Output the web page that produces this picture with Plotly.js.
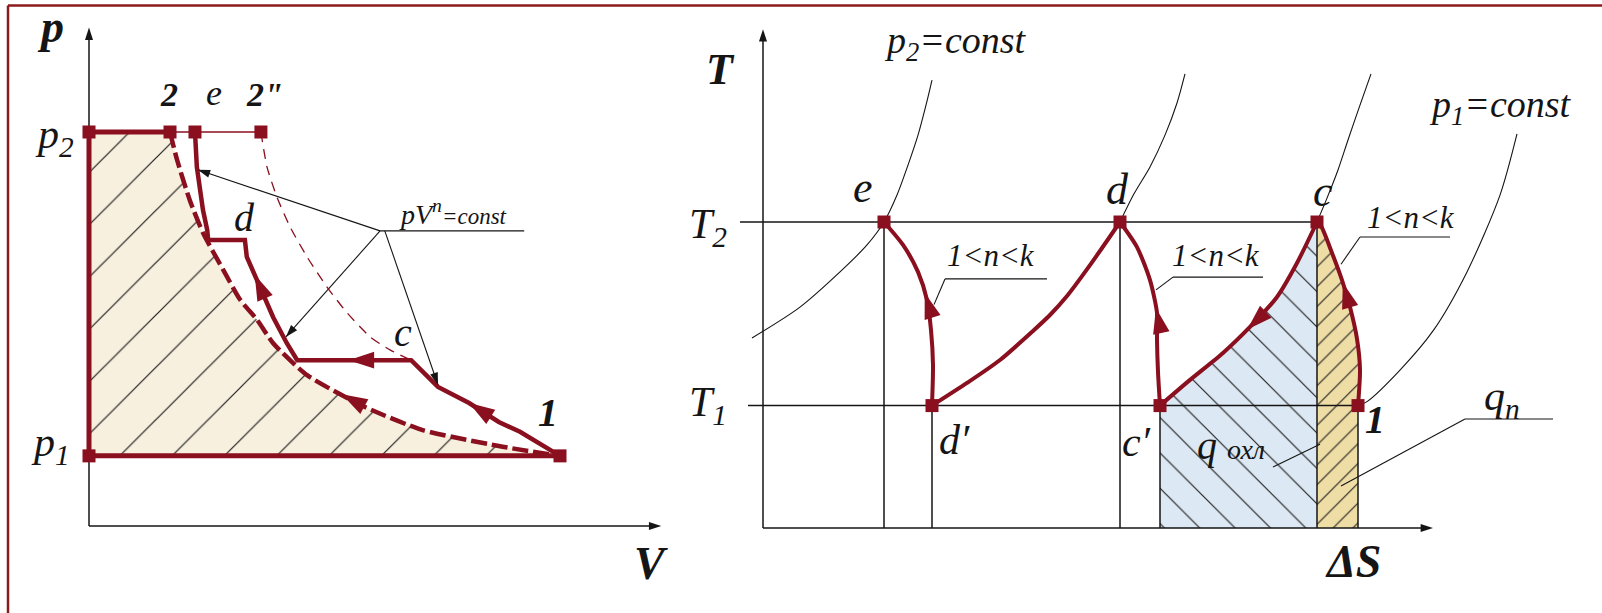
<!DOCTYPE html>
<html>
<head>
<meta charset="utf-8">
<script src="https://cdn.plot.ly/plotly-3.0.1.min.js"></script>
<style>
  html, body { margin: 0; padding: 0; background: #ffffff; }
  #chart { width: 1602px; height: 613px; }
</style>
</head>
<body>
<div id="chart"></div>
<script>
// ---------- p–V diagram (V along x, p along y) ----------
// state points: p2 and p1 on the p axis, then 2, e, 2", 1
const pvPointV = [0, 0, 1.72, 2.25, 3.65, 10.0];
const pvPointP = [10.0, 1.78, 10.0, 10.0, 10.0, 1.78];

// isotherm 2 -> 1 (pV = const)
const isoV = [1.72, 1.87, 2.14, 2.42, 2.85, 3.21, 3.57, 3.91, 4.63, 5.86, 7.07, 8.70, 10.0];
const isoP = [10.0, 9.29, 8.27, 7.44, 6.50, 5.74, 5.23, 4.64, 3.83, 3.02, 2.44, 2.03, 1.78];

// adiabat 2" -> c
const adiV = [3.65, 3.78, 3.99, 4.27, 4.63, 5.05, 5.48, 5.97, 6.39, 6.84];
const adiP = [10.0, 9.11, 8.35, 7.59, 6.83, 6.07, 5.41, 4.80, 4.47, 4.21];

// stepped polytropic compression 1 -> c -> d -> e with intercooling
const polyV = [10.0, 9.15, 8.70, 8.07, 7.41, 6.84, 4.42, 4.20, 3.91, 3.63, 3.35, 3.31, 2.53, 2.51, 2.42, 2.29, 2.25];
const polyP = [1.78, 2.39, 2.64, 3.12, 3.53, 4.21, 4.21, 4.64, 5.30, 6.07, 6.83, 7.26, 7.26, 7.51, 8.02, 9.11, 10.0];

// ---------- T–S diagram (S along x, T along y) ----------
// state points: e, d', d, c', c, 1
const tsPointS = [2.42, 3.38, 7.14, 7.94, 11.08, 11.90];
const tsPointT = [10.0, 4.0, 10.0, 4.0, 10.0, 4.0];

// polytropic compressions (1 < n < k) and isobaric coolers
const edS = [2.42, 2.80, 3.10, 3.28, 3.36, 3.40, 3.38];
const edT = [10.0, 9.25, 8.37, 7.45, 6.47, 5.33, 4.0];
const ddS = [3.38, 4.08, 4.74, 5.40, 5.74, 6.08, 6.54, 7.14];
const ddT = [4.0, 4.74, 5.49, 6.44, 6.96, 7.58, 8.59, 10.0];
const cdS = [7.94, 7.90, 7.88, 7.88, 7.74, 7.48, 7.14];
const cdT = [4.0, 5.10, 6.14, 7.03, 8.10, 9.18, 10.0];
const ccS = [7.94, 8.54, 9.20, 9.74, 10.28, 10.68, 11.08];
const ccT = [4.0, 4.84, 5.72, 6.57, 7.55, 8.66, 10.0];
const c1S = [11.90, 11.94, 11.88, 11.74, 11.58, 11.38, 11.16, 11.08];
const c1T = [4.0, 5.16, 6.18, 7.22, 8.10, 8.99, 9.87, 10.0];

// isobars
const isoP2S = [-0.22, 0.74, 1.54, 2.08, 2.42, 2.68, 2.90, 3.10, 3.26, 3.38];
const isoP2T = [6.21, 7.22, 8.37, 9.25, 10.0, 10.88, 11.86, 12.84, 13.82, 14.64];
const isoDS = [7.14, 7.42, 7.74, 8.04, 8.28, 8.44];
const isoDT = [10.0, 10.92, 11.80, 12.84, 13.89, 14.84];
const isoCS = [11.08, 11.28, 11.50, 11.70, 11.94, 12.16];
const isoCT = [10.0, 10.78, 11.70, 12.68, 13.82, 14.84];
const isoP1S = [11.90, 12.08, 12.74, 13.40, 14.08, 14.74, 15.08];
const isoP1T = [4.0, 4.13, 5.16, 6.44, 8.37, 10.88, 12.88];

// ---------- page geometry ----------
const W = 1602, H = 613;
const PV_ORIGIN = [89, 526], PV_SCALE = [47.1, 39.4];
const TS_ORIGIN = [763, 528], TS_SCALE = [50, 30.6];
const rangeX = (o, s) => [(0 - o) / s, (W - o) / s];
const rangeY = (o, s) => [(o - H) / s, o / s];

const RED = '#8a0f1f';
const INK = '#151515';
const SERIF = '"Liberation Serif", "Times New Roman", serif';

const PV = { xaxis: 'x', yaxis: 'y' };
const TS = { xaxis: 'x2', yaxis: 'y2' };

function segments(list) {
  const x = [], y = [];
  list.forEach(s => { x.push(s[0], s[2], null); y.push(s[1], s[3], null); });
  return { x, y };
}
function line(ax, x, y, color, width, extra) {
  return Object.assign({ type: 'scatter', mode: 'lines', x, y, hoverinfo: 'skip',
    line: Object.assign({ color, width }, extra || {}) }, ax);
}

// arrowhead on a polyline: tip placed a fraction t of the way from vertex i to vertex j
function arrowAt(xs, ys, i, j, t, scale) {
  const dx = xs[j] - xs[i], dy = ys[j] - ys[i];
  return { x: xs[i] + t * dx, y: ys[i] + t * dy,
    a: Math.atan2(dx * scale[0], dy * scale[1]) * 180 / Math.PI };
}
// arrowhead pointing from (x0, y0) towards (x1, y1), tip at (x1, y1)
function arrowTo(x0, y0, x1, y1, scale) {
  return arrowAt([x0, x1], [y0, y1], 0, 1, 1, scale);
}
function arrowTrace(ax, heads, color, size) {
  return Object.assign({ type: 'scatter', mode: 'markers', hoverinfo: 'skip',
    x: heads.map(h => h.x), y: heads.map(h => h.y),
    marker: { symbol: 'arrow', size, color, angle: heads.map(h => h.a), line: { width: 0 } } }, ax);
}

const traces = [];

// work area under the isotherm, hatched
traces.push(Object.assign({
  type: 'scatter', mode: 'lines',
  x: [pvPointV[1], pvPointV[0]].concat(isoV),
  y: [pvPointP[1], pvPointP[0]].concat(isoP),
  fill: 'toself', fillcolor: '#f8f0df',
  fillpattern: { shape: '/', size: 37, solidity: 0.032, fgcolor: '#1c1c1c', bgcolor: '#f8f0df' },
  line: { width: 0, color: 'rgba(0,0,0,0)' }, hoverinfo: 'skip'
}, PV));

// heat removed in the cooler (blue) and heat of the last stage (yellow)
traces.push(Object.assign({
  type: 'scatter', mode: 'lines',
  x: [ccS[0]].concat(ccS, [ccS[ccS.length - 1]]),
  y: [0].concat(ccT, [0]),
  fill: 'toself', fillcolor: '#dce8f3',
  fillpattern: { shape: '\\', size: 25, solidity: 0.045, fgcolor: '#1c1c1c', bgcolor: '#dce8f3' },
  line: { width: 0, color: 'rgba(0,0,0,0)' }, hoverinfo: 'skip'
}, TS));
traces.push(Object.assign({
  type: 'scatter', mode: 'lines',
  x: [c1S[c1S.length - 1]].concat(c1S.slice().reverse(), [c1S[0]]),
  y: [0].concat(c1T.slice().reverse(), [0]),
  fill: 'toself', fillcolor: '#efdda6',
  fillpattern: { shape: '/', size: 14, solidity: 0.075, fgcolor: '#1c1c1c', bgcolor: '#efdda6' },
  line: { width: 0, color: 'rgba(0,0,0,0)' }, hoverinfo: 'skip'
}, TS));

// T–S construction lines: T levels, axes and drops to the S axis
const TS_AXIS_TOP = 16.2, TS_AXIS_RIGHT = 13.3;
const tsGuides = [
  [-0.46, tsPointT[0], tsPointS[4], tsPointT[4]],
  [-0.30, tsPointT[1], tsPointS[5], tsPointT[5]],
  [0, 0, 0, TS_AXIS_TOP],
  [0, 0, TS_AXIS_RIGHT, 0]
];
for (let i = 0; i < tsPointS.length; i++) tsGuides.push([tsPointS[i], 0, tsPointS[i], tsPointT[i]]);
const g1 = segments(tsGuides);
traces.push(line(TS, g1.x, g1.y, INK, 1.5));

// T–S leaders for the annotations
const g2 = segments([
  [3.64, 8.14, 5.68, 8.14], [3.64, 8.14, 3.42, 7.30],
  [8.20, 8.20, 10.00, 8.20], [8.20, 8.20, 7.86, 7.78],
  [11.94, 9.51, 13.74, 9.51], [11.94, 9.51, 11.56, 8.62],
  [14.04, 3.56, 15.80, 3.56], [14.04, 3.56, 11.56, 1.37],
  [10.20, 1.99, 11.14, 2.74]
]);
traces.push(line(TS, g2.x, g2.y, INK, 1.1));

// isobars
[[isoP2S, isoP2T], [isoDS, isoDT], [isoCS, isoCT], [isoP1S, isoP1T]].forEach(c => {
  traces.push(line(TS, c[0], c[1], INK, 1.1, { shape: 'spline', smoothing: 0.8 }));
});

// p–V axes and leaders for pV^n = const
const PV_AXIS_TOP = 12.55, PV_AXIS_RIGHT = 12.05;
const g3 = segments([[0, 0, 0, PV_AXIS_TOP], [0, 0, PV_AXIS_RIGHT, 0]]);
traces.push(line(PV, g3.x, g3.y, INK, 1.5));
const leadFrom = [6.18, 7.49];
const leadTo = [[2.31, 9.04], [4.18, 4.80], [7.41, 3.58]];
const g4 = segments([
  [6.18, 7.49, 9.24, 7.49],
  [leadFrom[0], leadFrom[1], leadTo[0][0], leadTo[0][1]],
  [leadFrom[0], leadFrom[1], leadTo[1][0], leadTo[1][1]],
  [leadFrom[0] + 0.1, leadFrom[1], leadTo[2][0], leadTo[2][1]]
]);
traces.push(line(PV, g4.x, g4.y, INK, 1.1));

// p–V cycle lines
traces.push(line(PV, adiV, adiP, RED, 1.3, { dash: '10px,7px', shape: 'spline', smoothing: 0.6 }));
traces.push(line(PV, isoV, isoP, RED, 4.5, { dash: '16px,5px', shape: 'spline', smoothing: 0.6 }));
traces.push(line(PV, [pvPointV[2], pvPointV[4]], [pvPointP[2], pvPointP[4]], RED, 1.6));
traces.push(line(PV, [pvPointV[1], pvPointV[0], pvPointV[2]], [pvPointP[1], pvPointP[0], pvPointP[2]], RED, 5));
traces.push(line(PV, [pvPointV[1], pvPointV[5]], [pvPointP[1], pvPointP[5]], RED, 5));
traces.push(line(PV, polyV, polyP, RED, 4.5));

// T–S cycle lines
[[edS, edT], [ddS, ddT], [cdS, cdT], [ccS, ccT], [c1S, c1T]].forEach(c => {
  traces.push(line(TS, c[0], c[1], RED, 4, { shape: 'spline', smoothing: 0.7 }));
});

// direction arrows along the processes
const pvS = PV_SCALE, tsS = TS_SCALE;
traces.push(arrowTrace(PV, [
  arrowAt(polyV, polyP, 2, 3, 1.0, pvS),
  arrowAt(polyV, polyP, 5, 6, 0.55, pvS),
  arrowAt(polyV, polyP, 9, 10, 0.4, pvS),
  arrowAt(isoV, isoP, 9, 8, 0.4, pvS)
], RED, 27));
traces.push(arrowTrace(TS, [
  arrowAt(edS, edT, 3, 2, 0.25, tsS),
  arrowAt(cdS, cdT, 3, 4, 0.15, tsS),
  arrowAt(ccS, ccT, 3, 2, 0.1, tsS),
  arrowAt(c1S, c1T, 3, 4, 0.9, tsS)
], RED, 27));

// axis arrowheads and leader arrowheads
traces.push(arrowTrace(PV, [
  arrowTo(0, 0, 0, PV_AXIS_TOP + 0.1, pvS),
  arrowTo(0, 0, PV_AXIS_RIGHT + 0.1, 0, pvS)
].concat(leadTo.map((p, k) => arrowTo(leadFrom[0] + (k === 2 ? 0.1 : 0), leadFrom[1], p[0], p[1], pvS))), INK, 13));
traces.push(arrowTrace(TS, [
  arrowTo(0, 0, 0, TS_AXIS_TOP + 0.1, tsS),
  arrowTo(0, 0, TS_AXIS_RIGHT + 0.1, 0, tsS)
], INK, 13));

// state point markers
traces.push(Object.assign({ type: 'scatter', mode: 'markers', x: pvPointV, y: pvPointP, hoverinfo: 'skip',
  marker: { symbol: 'square', size: 13, color: RED } }, PV));
traces.push(Object.assign({ type: 'scatter', mode: 'markers', x: tsPointS, y: tsPointT, hoverinfo: 'skip',
  marker: { symbol: 'square', size: 13, color: RED } }, TS));

// ---------- text labels ----------
const ann = [];
function text(ref, t, x, y, size, bold) {
  ann.push({ xref: ref[0], yref: ref[1], x, y, text: t, showarrow: false,
    xanchor: 'center', yanchor: 'middle',
    font: { family: SERIF, size, color: INK, style: 'italic', weight: bold ? 'bold' : 'normal' } });
}
const L = ['x', 'y'], R = ['x2', 'y2'];

// p–V labels
text(L, 'p', -0.81, 12.67, 46, true);
text(L, 'p<sub>2</sub>', -0.74, 9.87, 42);
text(L, 'p<sub>1</sub>', -0.81, 2.06, 42);
text(L, '2', 1.70, 10.94, 34, true);
text(L, 'e', 2.65, 10.98, 36);
text(L, '2"', 3.72, 10.94, 34, true);
text(L, 'd', 3.31, 7.82, 40);
text(L, 'c', 6.67, 4.90, 40);
text(L, '1', 9.75, 2.87, 40, true);
text(L, 'V', 11.93, -0.94, 46, true);
text(L, 'pV<sup>n</sup><span style="font-size:23px">=const</span>', 7.73, 7.96, 28);

// T–S labels
text(R, 'T', -0.86, 14.97, 44, true);
text(R, 'T<sub>2</sub>', -1.10, 9.84, 42);
text(R, 'T<sub>1</sub>', -1.10, 4.02, 42);
text(R, 'e', 2.0, 11.14, 44);
text(R, 'd', 7.08, 11.05, 44);
text(R, 'c', 11.20, 11.0, 44);
text(R, 'd′', 3.82, 2.88, 42);
text(R, 'c′', 7.46, 2.81, 42);
text(R, '1', 12.24, 3.55, 40, true);
text(R, 'ΔS', 11.80, -1.10, 46, true);
text(R, 'p<sub>2</sub>=const', 3.84, 15.85, 38);
text(R, 'p<sub>1</sub>=const', 14.74, 13.76, 38);
text(R, '1&lt;n&lt;k', 4.56, 8.90, 31);
text(R, '1&lt;n&lt;k', 9.06, 8.90, 31);
text(R, '1&lt;n&lt;k', 12.96, 10.14, 31);
text(R, 'q<sub>n</sub>', 14.78, 4.20, 42);
text(R, 'q <span style="font-size:28px">охл</span>', 9.36, 2.68, 40);

// frame along the top and left edges
const shapes = [
  { type: 'line', xref: 'paper', yref: 'paper', x0: 8 / W, x1: 1, y0: 1 - 5.5 / H, y1: 1 - 5.5 / H,
    line: { color: '#8b1a1c', width: 2.5 } },
  { type: 'line', xref: 'paper', yref: 'paper', x0: 8 / W, x1: 8 / W, y0: 0, y1: 1 - 5.5 / H,
    line: { color: '#8b1a1c', width: 2.5 } }
];

const hidden = { visible: false, autorange: false, fixedrange: true, showgrid: false, zeroline: false };
const layout = {
  width: W, height: H,
  margin: { l: 0, r: 0, t: 0, b: 0, pad: 0 },
  paper_bgcolor: '#ffffff', plot_bgcolor: '#ffffff',
  showlegend: false,
  xaxis: Object.assign({ domain: [0, 1], range: rangeX(PV_ORIGIN[0], PV_SCALE[0]) }, hidden),
  yaxis: Object.assign({ domain: [0, 1], range: rangeY(PV_ORIGIN[1], PV_SCALE[1]) }, hidden),
  xaxis2: Object.assign({ domain: [0, 1], overlaying: 'x', anchor: 'y2', range: rangeX(TS_ORIGIN[0], TS_SCALE[0]) }, hidden),
  yaxis2: Object.assign({ domain: [0, 1], overlaying: 'y', anchor: 'x2', range: rangeY(TS_ORIGIN[1], TS_SCALE[1]) }, hidden),
  annotations: ann,
  shapes: shapes
};

Plotly.newPlot('chart', traces, layout, { staticPlot: true, displayModeBar: false });
</script>
</body>
</html>
